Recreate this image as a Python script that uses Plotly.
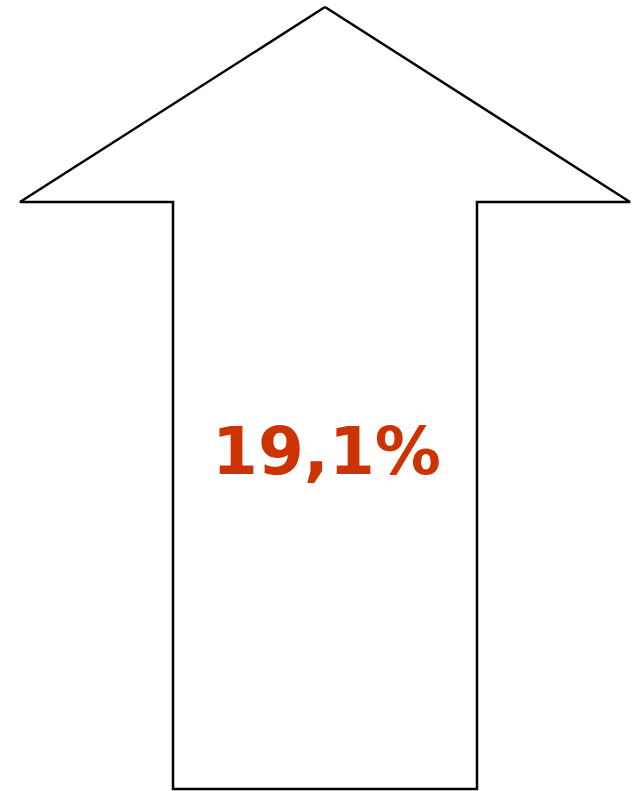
import plotly.graph_objects as go

# Data
value_pct = 19.1
label_text = f"{value_pct:.1f}".replace(".", ",") + "%"

# Arrow outline (pixel space of the 633x791 canvas)
arrow_x = [325, 630, 477, 477, 173, 173, 20, 325]
arrow_y = [7, 202, 202, 789, 789, 202, 202, 7]

W, H = 633, 791

fig = go.Figure()
fig.add_trace(go.Scatter(
    x=arrow_x, y=arrow_y, mode="lines",
    line=dict(color="black", width=2.5),
    fill="toself", fillcolor="white",
    hoverinfo="skip", showlegend=False, cliponaxis=False,
))
fig.add_annotation(
    x=326, y=451, xref="x", yref="y",
    text=f"<b>{label_text}</b>", showarrow=False,
    font=dict(family="DejaVu Sans", size=66, color="#CC3300"),
    xanchor="center", yanchor="middle",
)
fig.update_xaxes(range=[0, W], visible=False, fixedrange=True)
fig.update_yaxes(range=[H, 0], visible=False, fixedrange=True)
fig.update_layout(
    width=W, height=H,
    margin=dict(l=0, r=0, t=0, b=0),
    paper_bgcolor="white", plot_bgcolor="white",
)
fig.write_html(
    "out.html",
    config={"displayModeBar": False, "staticPlot": True},
    post_script="document.body.style.margin='0';document.body.style.overflow='hidden';",
)
